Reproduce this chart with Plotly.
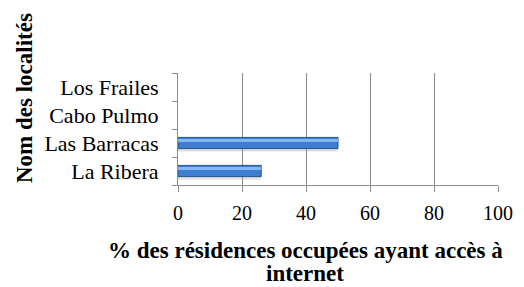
import plotly.graph_objects as go

localites = ["La Ribera", "Las Barracas", "Cabo Pulmo", "Los Frailes"]
pourcentages = [26, 50, 0, 0]
x_ticks = [0, 20, 40, 60, 80, 100]

FONT = "Liberation Serif"
W, H = 524, 287
l, r, t, b = 178, 26, 73, 102
pw, ph = W - l - r, H - t - b

def px_x(x):
    return (x - l) / pw

def px_y(y):
    return (H - b - y) / ph

outline = [1 if v > 0 else 0 for v in pourcentages]

fig = go.Figure()
# shadow
fig.add_trace(go.Bar(y=localites, x=pourcentages, orientation="h", width=0.44, offset=-0.3,
                     marker=dict(color="rgba(150,150,150,0.3)", line=dict(width=0)),
                     hoverinfo="skip", showlegend=False))
# main bar
fig.add_trace(go.Bar(y=localites, x=pourcentages, orientation="h", width=0.4, offset=-0.2,
                     marker=dict(color="#3F7DD0", line=dict(color="#24528F", width=outline)),
                     showlegend=False))
# highlight
fig.add_trace(go.Bar(y=localites, x=pourcentages, orientation="h", width=0.1, offset=0.04,
                     marker=dict(color="rgba(140,190,245,0.9)", line=dict(width=0)),
                     hoverinfo="skip", showlegend=False))

fig.update_layout(
    width=W, height=H,
    margin=dict(l=l, r=r, t=t, b=b, autoexpand=False),
    paper_bgcolor="white", plot_bgcolor="white",
    barmode="overlay",
    font=dict(family=FONT, size=22, color="black"),
    xaxis=dict(range=[0, 100], tickvals=x_ticks, showgrid=True, gridcolor="#8C8C8C", gridwidth=1,
               showline=True, linecolor="#8C8C8C", ticks="outside", ticklen=6, tickcolor="#8C8C8C",
               zeroline=False, fixedrange=True, ticklabelstandoff=4, automargin=False,
               tickfont=dict(size=20)),
    yaxis=dict(categoryorder="array", categoryarray=localites, showline=True, linecolor="#8C8C8C",
               ticks="outside", ticklen=5, tickcolor="#8C8C8C", tickson="boundaries",
               showgrid=False, ticklabelstandoff=14, automargin=False, tickfont=dict(size=22),
               fixedrange=True),
    annotations=[
        dict(text="<b>% des résidences occupées ayant accès à</b>", xref="paper", yref="paper",
             x=px_x(305), y=px_y(250), xanchor="center", yanchor="middle", showarrow=False,
             font=dict(size=23, family=FONT)),
        dict(text="<b>internet</b>", xref="paper", yref="paper",
             x=px_x(305), y=px_y(273), xanchor="center", yanchor="middle", showarrow=False,
             font=dict(size=23, family=FONT)),
        dict(text="<b>Nom des localités</b>", textangle=-90, xref="paper", yref="paper",
             x=px_x(24), y=px_y(98), xanchor="center", yanchor="middle", showarrow=False,
             font=dict(size=23, family=FONT)),
    ],
)

fig.write_html("out.html", config={"displayModeBar": False},
               post_script="document.body.style.margin='0';document.body.style.overflow='hidden';")
